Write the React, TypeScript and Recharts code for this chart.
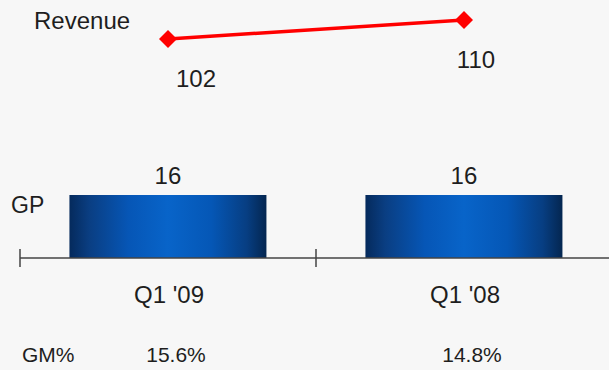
import { ComposedChart, Bar, Line, XAxis, YAxis, LabelList } from "recharts"

const quarters = ["Q1 '09", "Q1 '08"]
const revenue = [102, 110]
const grossProfit = [16, 16]
const grossMargin = [15.6, 14.8]

const data = quarters.map((quarter, i) => ({
  quarter,
  revenue: revenue[i],
  gp: grossProfit[i],
}))

const CHART_W = 620
const MARGIN = { top: 0, right: 8, left: 20, bottom: 0 }
const BAND = (CHART_W - MARGIN.left - MARGIN.right) / quarters.length
const FONT = "'Liberation Sans', Arial, sans-serif"
const INK = "#1e1e1e"
// small nudges so the revenue labels sit where the original puts them
const revenueLabelDx = [28, 12]

function QuarterTick(props: any) {
  const { x, y, payload } = props
  const i = quarters.indexOf(payload.value)
  const left = x - BAND / 2
  return (
    <g>
      <line x1={left} x2={left} y1={y - 9} y2={y + 9} stroke="#444" strokeWidth={1.5} />
      <text x={x + 1} y={y + 45} textAnchor="middle" fontSize={24} fontFamily={FONT} fill={INK}>
        {payload.value}
      </text>
      <text x={x + 8} y={y + 104} textAnchor="middle" fontSize={21} fontFamily={FONT} fill={INK}>
        {grossMargin[i].toFixed(1)}%
      </text>
    </g>
  )
}

function Diamond(props: any) {
  const { cx, cy, index } = props
  const r = 9
  return (
    <polygon
      key={`d-${index}`}
      points={`${cx},${cy - r} ${cx + r},${cy} ${cx},${cy + r} ${cx - r},${cy}`}
      fill="#ff0000"
    />
  )
}

export default function App() {
  return (
    <div
      style={{
        position: "absolute",
        left: 0,
        top: 0,
        width: 609,
        height: 370,
        overflow: "hidden",
        background: "#f7f7f7",
      }}
    >
      <ComposedChart width={CHART_W} height={370} data={data} margin={MARGIN} barCategoryGap="16.7%">
        <defs>
          <linearGradient id="gpGrad" x1="0" y1="0" x2="1" y2="0">
            <stop offset="0%" stopColor="#052a5c" />
            <stop offset="10%" stopColor="#0a3e82" />
            <stop offset="30%" stopColor="#0656b6" />
            <stop offset="50%" stopColor="#0864c9" />
            <stop offset="72%" stopColor="#0557b6" />
            <stop offset="90%" stopColor="#073e82" />
            <stop offset="100%" stopColor="#042650" />
          </linearGradient>
        </defs>
        <XAxis
          dataKey="quarter"
          height={112}
          interval={0}
          tickSize={0}
          tickMargin={0}
          tickLine={false}
          axisLine={{ stroke: "#444", strokeWidth: 1.5 }}
          tick={<QuarterTick />}
        />
        <YAxis yAxisId="gp" hide domain={[0, 65.5]} />
        <YAxis yAxisId="rev" hide domain={[9.8, 118.4]} />
        <Bar yAxisId="gp" dataKey="gp" fill="url(#gpGrad)" isAnimationActive={false}>
          <LabelList
            dataKey="gp"
            content={(p: any) => (
              <text
                x={p.x + p.width / 2}
                y={p.y - 11}
                textAnchor="middle"
                fontSize={24}
                fontFamily={FONT}
                fill={INK}
              >
                {p.value}
              </text>
            )}
          />
        </Bar>
        <Line
          yAxisId="rev"
          dataKey="revenue"
          stroke="#ff0000"
          strokeWidth={3.5}
          dot={<Diamond />}
          activeDot={false}
          isAnimationActive={false}
        >
          <LabelList
            dataKey="revenue"
            content={(p: any) => (
              <text
                x={p.x + (revenueLabelDx[p.index] ?? 20)}
                y={p.y + 48}
                textAnchor="middle"
                fontSize={24}
                fontFamily={FONT}
                fill={INK}
              >
                {p.value}
              </text>
            )}
          />
        </Line>
      </ComposedChart>
      <svg
        width={609}
        height={370}
        style={{ position: "absolute", left: 0, top: 0, pointerEvents: "none" }}
      >
        <text x={34} y={29} fontSize={24} fontFamily={FONT} fill={INK}>
          Revenue
        </text>
        <text x={11} y={213} fontSize={23} fontFamily={FONT} fill={INK}>
          GP
        </text>
        <text x={22} y={362} fontSize={21} fontFamily={FONT} fill={INK}>
          GM%
        </text>
      </svg>
    </div>
  )
}
